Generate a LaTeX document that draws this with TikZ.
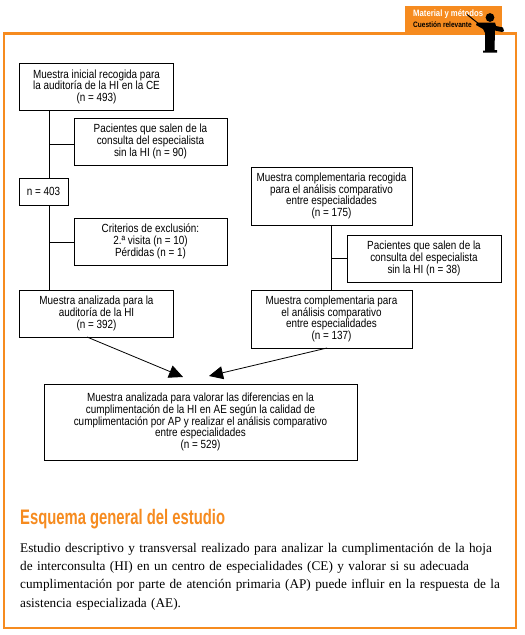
\documentclass[tikz,border=0pt]{standalone}
\usepackage{fontspec}
\setmainfont{Liberation Serif}
\newfontfamily\narrowfont[FakeStretch=0.84]{Liberation Sans}
\newfontfamily\headfont[FakeStretch=0.705]{Liberation Sans}
\usetikzlibrary{arrows.meta}
\definecolor{frameor}{HTML}{F68B1F}
\tikzset{
  flowbox/.style={draw=black,line width=0.9pt,minimum width=#1,inner sep=0pt,align=center,
    font=\narrowfont\fontsize{11.8}{11.7}\selectfont},
  link/.style={draw=black,line width=0.9pt},
  flowarrow/.style={draw=black,line width=0.8pt,-{Triangle[length=14pt,width=13pt]}},
  panel/.style={draw=frameor,line width=2.4pt},
  tabtext/.style={font=\narrowfont\bfseries\fontsize{7.8}{8}\selectfont,anchor=west,inner sep=0pt},
}
\begin{document}
\begin{tikzpicture}[x=1pt,y=-1pt]
\useasboundingbox (0,0) rectangle (525,635);
\fill[white] (0,0) rectangle (525,635);
% panel and tab
\fill[frameor] (405,6) rectangle (502,33);
\draw[panel] (4,33.5) -- (516,33.5) -- (516,628) -- (4,628) -- cycle;
\node[tabtext,text=white,font=\narrowfont\bfseries\fontsize{9.2}{10}\selectfont] (tabA) at (413,14.5) {Material y métodos};
\node[tabtext,text=black] (tabB) at (413,25) {Cuestión relevante};
% presenter silhouette
\fill[black] (490,17.5) circle (4.4);
\fill[black] (484,22.5) -- (495,22.5) -- (496,26) -- (503,27.5) -- (504,31) -- (502,32) -- (495,30.5)
  -- (494.5,50) -- (497,50) -- (497,52.5) -- (483,52.5) -- (483,50.5) -- (485,50.5) -- (485,33)
  -- (483,29) -- (476,25) -- (477,22.5) -- cycle;
\draw[black,line width=1pt] (467,14.5) -- (484,28);
% left column
\node[flowbox=154pt,minimum height=46.5pt] (a1) at (96.5,86.75) {Muestra inicial recogida para\\la auditoría de la HI en la CE\\(n = 493)};
\node[flowbox=153pt,minimum height=47pt] (a2) at (150.5,141.5) {Pacientes que salen de la\\consulta del especialista\\sin la HI (n = 90)};
\node[flowbox=49pt,minimum height=27pt] (a3) at (43.5,191.5) {n = 403};
\node[flowbox=153pt,minimum height=47pt] (a4) at (150.5,241.5) {Criterios de exclusión:\\2.ª visita (n = 10)\\Pérdidas (n = 1)};
\node[flowbox=154pt,minimum height=47pt] (a5) at (96.5,313.5) {Muestra analizada para la\\auditoría de la HI\\(n = 392)};
% right column
\node[flowbox=161pt,minimum height=58pt] (b1) at (331.5,196) {Muestra complementaria recogida\\para el análisis comparativo\\entre especialidades\\(n = 175)};
\node[flowbox=154pt,minimum height=47pt] (b2) at (424,258.5) {Pacientes que salen de la\\consulta del especialista\\sin la HI (n = 38)};
\node[flowbox=161pt,minimum height=58pt] (b3) at (331.5,319) {Muestra complementaria para\\el análisis comparativo\\entre especialidades\\(n = 137)};
% bottom box
\node[flowbox=313pt,minimum height=76pt] (c) at (200.5,422) {Muestra analizada para valorar las diferencias en la\\cumplimentación de la HI en AE según la calidad de\\cumplimentación por AP y realizar el análisis comparativo\\entre especialidades\\(n = 529)};
% connectors
\coordinate (la1) at (49.5,110);
\coordinate (la3t) at (49.5,178);
\coordinate (la3b) at (49.5,205);
\coordinate (la5) at (49.5,290);
\coordinate (s1) at (49.5,144.3);
\coordinate (s2) at (49.5,242.3);
\coordinate (s3) at (331.5,258.5);
\draw[link] (la1) -- (la3t);
\draw[link] (la3b) -- (la5);
\draw[link] (s1) -- (s1 -| a2.west);
\draw[link] (s2) -- (s2 -| a4.west);
\draw[link] (b1.south) -- (b3.north);
\draw[link] (s3) -- (s3 -| b2.west);
\coordinate (ar1s) at (87,337);
\coordinate (ar1e) at (183,377);
\coordinate (ar2s) at (327,348);
\coordinate (ar2e) at (209,376);
\draw[flowarrow] (ar1s) -- (ar1e);
\draw[flowarrow] (ar2s) -- (ar2e);
% caption
\node[anchor=west,inner sep=0pt,text=frameor,font=\headfont\bfseries\fontsize{21}{24}\selectfont] (head) at (20,519.5) {Esquema general del estudio};
\node[anchor=north west,inner sep=0pt,text width=497pt,align=left,font=\fontsize{13.25}{18.2}\selectfont] (body) at (20,543) {Estudio descriptivo y transversal realizado para analizar la cumplimentación de la hoja\\de interconsulta (HI) en un centro de especialidades (CE) y valorar si su adecuada\\cumplimentación por parte de atención primaria (AP) puede influir en la respuesta de la\\asistencia especializada (AE).};
\end{tikzpicture}
\end{document}
